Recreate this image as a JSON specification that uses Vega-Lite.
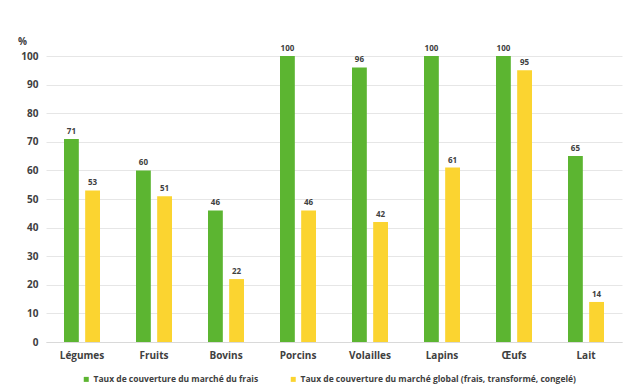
{
  "$schema": "https://vega.github.io/schema/vega-lite/v6.json",
  "autosize": "none",
  "width": 576,
  "height": 286,
  "padding": {"left": 46, "top": 56, "right": 10, "bottom": 47},
  "background": "white",
  "config": {
    "view": {"stroke": null},
    "font": "Open Sans"
  },
  "data": {
    "values": [
      {"cat": "Légumes", "serie": "Taux de couverture du marché du frais", "v": 71},
      {"cat": "Légumes", "serie": "Taux de couverture du marché global (frais, transformé, congelé)", "v": 53},
      {"cat": "Fruits", "serie": "Taux de couverture du marché du frais", "v": 60},
      {"cat": "Fruits", "serie": "Taux de couverture du marché global (frais, transformé, congelé)", "v": 51},
      {"cat": "Bovins", "serie": "Taux de couverture du marché du frais", "v": 46},
      {"cat": "Bovins", "serie": "Taux de couverture du marché global (frais, transformé, congelé)", "v": 22},
      {"cat": "Porcins", "serie": "Taux de couverture du marché du frais", "v": 100},
      {"cat": "Porcins", "serie": "Taux de couverture du marché global (frais, transformé, congelé)", "v": 46},
      {"cat": "Volailles", "serie": "Taux de couverture du marché du frais", "v": 96},
      {"cat": "Volailles", "serie": "Taux de couverture du marché global (frais, transformé, congelé)", "v": 42},
      {"cat": "Lapins", "serie": "Taux de couverture du marché du frais", "v": 100},
      {"cat": "Lapins", "serie": "Taux de couverture du marché global (frais, transformé, congelé)", "v": 61},
      {"cat": "Œufs", "serie": "Taux de couverture du marché du frais", "v": 100},
      {"cat": "Œufs", "serie": "Taux de couverture du marché global (frais, transformé, congelé)", "v": 95},
      {"cat": "Lait", "serie": "Taux de couverture du marché du frais", "v": 65},
      {"cat": "Lait", "serie": "Taux de couverture du marché global (frais, transformé, congelé)", "v": 14}
    ]
  },
  "encoding": {
    "x": {
      "field": "cat", "type": "nominal", "sort": null,
      "scale": {"paddingInner": 0.5, "paddingOuter": 0.25},
      "axis": {
        "title": null, "labelAngle": 0, "ticks": false, "domain": true,
        "domainColor": "#d9d9d9", "labelFontSize": 10, "labelFontWeight": "bold",
        "labelColor": "#404040", "labelPadding": 8
      }
    },
    "xOffset": {
      "field": "serie", "type": "nominal",
      "scale": {"paddingInner": 0.3}
    },
    "y": {
      "field": "v", "type": "quantitative",
      "scale": {"domain": [0, 100]},
      "axis": {
        "title": "%", "titleAngle": 0, "titleX": -24, "titleY": -10,
        "titleAlign": "center", "titleFontSize": 10, "titleFontWeight": "bold", "titleColor": "#404040",
        "values": [0, 10, 20, 30, 40, 50, 60, 70, 80, 90, 100],
        "ticks": false, "domain": false, "gridColor": "#e6e6e6",
        "labelFontSize": 10, "labelFontWeight": "bold", "labelColor": "#404040", "labelPadding": 8
      }
    }
  },
  "layer": [
    {
      "mark": {"type": "bar"},
      "encoding": {
        "color": {
          "field": "serie", "type": "nominal",
          "scale": {"range": ["#5cb531", "#fbd430"]},
          "legend": {
            "title": null, "orient": "none", "direction": "horizontal",
            "legendX": 36, "legendY": 319,
            "symbolType": "square", "symbolSize": 25, "symbolStrokeWidth": 0,
            "labelFontSize": 8.5, "labelFontWeight": "bold", "labelColor": "#404040",
            "labelLimit": 400, "columnPadding": 30, "labelOffset": 3
          }
        }
      }
    },
    {
      "mark": {"type": "text", "dy": -7, "fontSize": 8, "fontWeight": "bold", "color": "#404040"},
      "encoding": {"text": {"field": "v", "type": "quantitative"}}
    }
  ]
}
